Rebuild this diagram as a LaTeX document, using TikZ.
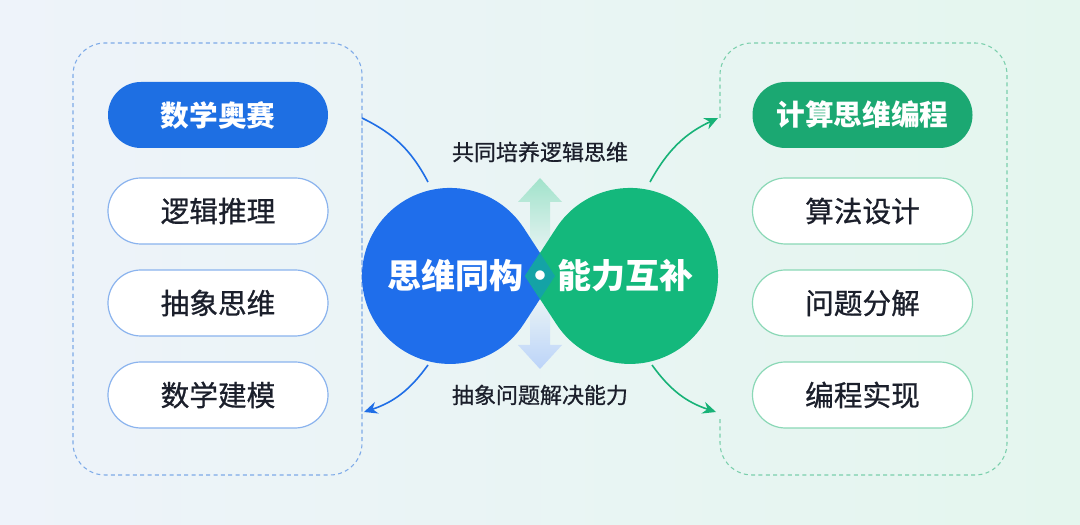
\documentclass[tikz,border=0pt]{standalone}
\usepackage{fontspec}
\setmainfont{Noto Sans CJK SC}
\newfontfamily\medfont[FakeBold=0.8]{Noto Sans CJK SC}
\usetikzlibrary{arrows.meta,calc}
\definecolor{bgL}{HTML}{EEF3FA}
\definecolor{bgR}{HTML}{E4F6EE}
\definecolor{blobblue}{HTML}{1F6EEB}
\definecolor{blobgreen}{HTML}{14B87C}
\definecolor{overlap}{HTML}{14A3A6}
\definecolor{pillblue}{HTML}{1E6FE3}
\definecolor{pillgreen}{HTML}{1BA872}
\definecolor{lineblue}{HTML}{8AB3EE}
\definecolor{linegreen}{HTML}{8AD8B6}
\definecolor{dashblue}{HTML}{7DAAE8}
\definecolor{dashgreen}{HTML}{7ACFAC}
\definecolor{txt}{HTML}{1B1F2B}
\definecolor{arrblue}{HTML}{1F6EE6}
\definecolor{arrgreen}{HTML}{17B277}
\tikzset{
  pillbase/.style={rectangle, rounded corners=24.7pt, minimum width=165pt, minimum height=49.5pt,
    font=\fontsize{21.5}{24}\medfont, inner sep=0pt},
  pillfillblue/.style={pillbase, fill=pillblue, text=white, font=\fontsize{21.5}{24}\selectfont\bfseries},
  pillfillgreen/.style={pillbase, fill=pillgreen, text=white, font=\fontsize{21.5}{24}\selectfont\bfseries},
  pillwhiteblue/.style={pillbase, fill=white, draw=lineblue, line width=0.9pt, text=txt},
  pillwhitegreen/.style={pillbase, fill=white, draw=linegreen, line width=0.9pt, text=txt},
  dashbox/.style={dashed, dash pattern=on 3pt off 2.5pt, line width=0.8pt, rounded corners=24pt},
  conn/.style={line width=1.2pt},
  midlabel/.style={font=\fontsize{16.5}{19}\medfont, text=txt},
}
\begin{document}
\begin{tikzpicture}[x=0.75pt,y=0.75pt]
\useasboundingbox (0,0) rectangle (1080,524);
\shade[left color=bgL, right color=bgR] (0,0) rectangle (1080,524);

% dashed group boxes
\draw[dashbox, draw=dashblue] (362,106) -- (362,481) -- (73,481) -- (73,49) -- (362,49) -- (362,411);
\draw[dashbox, draw=dashgreen] (720,406) -- (720,481) -- (1007,481) -- (1007,49) -- (720,49) -- (720,107);

% left pills
\node[pillfillblue] (l1) at (218,409) {数学奥赛};
\node[pillwhiteblue] (l2) at (218,313) {逻辑推理};
\node[pillwhiteblue] (l3) at (218,221) {抽象思维};
\node[pillwhiteblue] (l4) at (218,129) {数学建模};
% right pills
\node[pillfillgreen] (r1) at (862.5,409) {计算思维编程};
\node[pillwhitegreen] (r2) at (862.5,313) {算法设计};
\node[pillwhitegreen] (r3) at (862.5,221) {问题分解};
\node[pillwhitegreen] (r4) at (862.5,129) {编程实现};

% vertical soft arrows
\shade[top color=blobgreen!40!white, bottom color=bgL!60!bgR]
  (530,268) -- (530,322) -- (518,322) -- (540,346) -- (562,322) -- (550,322) -- (550,268) -- cycle;
\shade[bottom color=blobblue!30!white, top color=bgL!60!bgR]
  (530,228) -- (530,179) -- (518,179) -- (540,155) -- (562,179) -- (550,179) -- (550,228) -- cycle;

% central blobs
\fill[blobblue] (555,248) -- (523.7,296.1) arc[start angle=33.1,end angle=326.9,radius=88] -- cycle;
\fill[blobgreen] (525,248) -- (556.3,296.1) arc[start angle=146.9,end angle=-146.9,radius=88] -- cycle;
\begin{scope}
  \clip (555,248) -- (523.7,296.1) arc[start angle=33.1,end angle=326.9,radius=88] -- cycle;
  \fill[overlap] (525,248) -- (556.3,296.1) arc[start angle=146.9,end angle=-146.9,radius=88] -- cycle;
\end{scope}
\node[font=\fontsize{25.5}{28}\selectfont\bfseries, text=white] (title) at (540,248) {思维同构・能力互补};

% labels
\node[midlabel] (up) at (540,372) {共同培养逻辑思维};
\node[midlabel] (down) at (540,129) {抽象问题解决能力};

% connector end points
\coordinate (lbA) at (362,406);
\coordinate (bTop) at (428,342);
\coordinate (bBot) at (428,159);
\coordinate (lbB) at (364,112);
\coordinate (gTop) at (650,342);
\coordinate (rbA) at (718,406);
\coordinate (gBot) at (652,159);
\coordinate (rbB) at (716,112);

\draw[conn, arrblue] (lbA) to[bend left=18] (bTop);
\draw[conn, arrblue, -{Stealth[length=10pt,width=9pt]}] (bBot) to[bend left=18] (lbB);
\draw[conn, arrgreen, -{Stealth[length=10pt,width=9pt]}] (gTop) to[bend left=18] (rbA);
\draw[conn, arrgreen, -{Stealth[length=10pt,width=9pt]}] (gBot) to[bend right=18] (rbB);
\end{tikzpicture}
\end{document}
